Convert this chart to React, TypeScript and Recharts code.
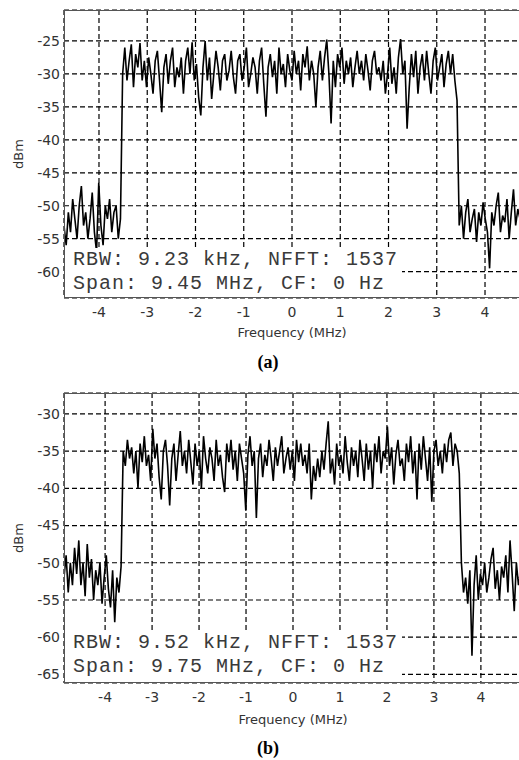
import React from "react"
import { LineChart, Line, XAxis, YAxis, CartesianGrid } from "recharts"

// spectrum (a): bins start at -4.725 MHz, 0.045 MHz apart
const A_START = -4.725
const A_STEP = 0.045
const aLowLeft = [
  -53, -56, -51, -54, -49, -52, -55, -50, -47, -53,
  -51, -55, -52, -48, -54, -57, -46.5, -53, -56, -50,
  -52, -49, -54, -51, -50, -55, -52,
]
const aBand = [
  -30, -26, -31, -28, -25.5, -32, -27, -29, -25.3, -31,
  -28, -32, -27.5, -30, -33, -28, -26.5, -31, -35.8, -29,
  -27, -31.5, -28, -26, -32, -29, -30.5, -27.5, -33, -28,
  -26, -30, -25.2, -31, -28.5, -33.5, -36.3, -29, -25, -31,
  -27.5, -33.8, -30, -26.5, -29, -32.5, -28, -27, -31, -29.5,
  -26.5, -30.5, -33, -28, -27, -31, -29, -26, -32, -30,
  -27.5, -29, -33, -28, -26, -31.5, -36.5, -29, -27, -30.5,
  -28, -33, -26, -30, -28.5, -32, -27, -29.5, -31, -26.5,
  -30, -28, -32.5, -27, -29, -25.8, -31, -28, -30, -35,
  -29, -26.5, -31, -27.5, -24.8, -30, -37.5, -28, -32, -27,
  -29, -26, -31.5, -28, -30, -27.5, -32, -29, -26.5, -30,
  -28, -31, -27, -29.5, -32.5, -28, -26.5, -30, -29, -31,
  -28, -33, -30, -26, -31.5, -29, -33, -27.5, -24.7, -30,
  -28, -38.3, -32, -27, -30.5, -26.5, -33, -29, -27, -31,
  -26.5, -30, -33, -28, -26, -31, -29, -27, -32, -28.5,
  -26.5, -30, -27, -31, -34,
]
const aLowRight = [
  -53, -50, -55, -51, -49, -54, -52, -50.5, -55.5, -51,
  -53, -49.5, -52, -54, -59.5, -51, -53, -50, -48, -54,
  -51.5, -52.5, -49, -55, -51, -47.5, -53, -50.5, -52,
]

// spectrum (b): bins start at -4.875 MHz
const B_START = -4.875
const B_STEP = 0.045
const bLowLeft = [
  -52, -49, -54, -50, -53, -48, -51.5, -47, -53, -50,
  -54.5, -47.5, -52, -49.5, -55, -51, -53, -50, -55.5, -52,
  -49, -53.5, -56, -51, -58, -52, -54, -50.5,
]
const bBand = [
  -35, -37, -33.5, -36, -34.5, -38, -35, -40, -34, -36.5,
  -33, -37, -35.5, -39, -32, -36, -34, -38.5, -41.5, -35,
  -33.5, -37, -42.3, -36, -34, -39, -35.5, -32.3, -37, -35,
  -38, -33.5, -36.5, -39.5, -34, -37, -35, -40, -33, -36,
  -38, -34.5, -36, -39, -33.5, -37, -35.5, -38.5, -40.5, -34,
  -36.5, -33.5, -37.5, -35, -39, -34, -36, -38, -43, -35.5,
  -33, -37, -35, -44, -36, -34, -38.5, -35.5, -37, -33.5,
  -36, -39, -34.5, -37, -35, -33, -38, -36, -34.5, -37.5,
  -35, -39, -33.5, -36.5, -34, -37, -35.5, -38, -34, -41.5,
  -37, -39, -36, -38.5, -35, -37.5, -34, -31, -38, -36,
  -39.5, -34, -37, -35.5, -38, -33, -36.5, -39, -34.5, -37,
  -35, -38.5, -33.5, -36, -39, -34, -37.5, -35, -40, -34,
  -36.5, -33, -38, -35, -36, -31.7, -37, -34.5, -39.5, -35.5,
  -33.5, -37, -36, -39, -34, -36.5, -33, -38, -35, -41.5,
  -34, -37.5, -33, -36, -39, -34.5, -41.8, -35, -33.5, -37,
  -35, -38, -34, -36.5, -33.5, -32.5, -37, -34, -35, -38,
]
const bLowRight = [
  -50, -54, -52, -55.5, -51, -62.5, -53, -49, -55, -51.5,
  -53, -50, -54, -52, -49.5, -48, -53.5, -51, -55, -50.5,
  -52, -49, -54, -47, -51.5, -56.5, -50, -53, -51,
]

const FREQ_TICKS = [-4, -3, -2, -1, 0, 1, 2, 3, 4]
const A_LEVEL_TICKS = [-60, -55, -50, -45, -40, -35, -30, -25]
const B_LEVEL_TICKS = [-65, -60, -55, -50, -45, -40, -35, -30]

const A_NOTE = ["RBW: 9.23 kHz, NFFT: 1537", "Span: 9.45 MHz, CF: 0 Hz"]
const B_NOTE = ["RBW: 9.52 kHz, NFFT: 1537", "Span: 9.75 MHz, CF: 0 Hz"]

const toRows = (start: number, step: number, levels: number[]) =>
  levels.map((v, i) => ({ f: +(start + i * step).toFixed(4), dbm: v }))

const dataA = toRows(A_START, A_STEP, [...aLowLeft, ...aBand, ...aLowRight])
const dataB = toRows(B_START, B_STEP, [...bLowLeft, ...bBand, ...bLowRight])

const tickStyle = { fill: "#333", fontSize: 14, fontFamily: "DejaVu Sans" }

interface PanelProps {
  top: number
  width: number
  height: number
  data: { f: number; dbm: number }[]
  xDomain: [number, number]
  yDomain: [number, number]
  yTicks: number[]
  note: string[]
  caption: string
  captionTop: number
  labelOffset: number
}

const Panel = ({ top, width, height, data, xDomain, yDomain, yTicks, note, caption, captionTop, labelOffset }: PanelProps) => {
  const plotH = height - 10 - 47
  return (
    <>
      <div style={{ position: "absolute", left: 0, top, width, height }}>
        <LineChart width={width} height={height} data={data} margin={{ top: 10, right: 0, bottom: 0, left: 0 }}>
          <CartesianGrid stroke="#000" strokeWidth={1.2} strokeDasharray="5 3" />
          <XAxis
            dataKey="f"
            type="number"
            domain={xDomain}
            ticks={FREQ_TICKS}
            allowDataOverflow
            axisLine={false}
            tickLine={false}
            tickSize={0}
            tickMargin={9}
            height={47}
            tick={tickStyle}
            label={{ value: "Frequency (MHz)", position: "insideBottom", offset: labelOffset, fill: "#333", fontSize: 13, fontFamily: "DejaVu Sans" }}
          />
          <YAxis
            type="number"
            domain={yDomain}
            ticks={yTicks}
            allowDataOverflow
            axisLine={false}
            tickLine={false}
            tickSize={0}
            tickMargin={4}
            width={64}
            tick={tickStyle}
            label={{ value: "dBm", angle: -90, position: "insideLeft", offset: 18, fill: "#333", fontSize: 13, fontFamily: "DejaVu Sans", style: { textAnchor: "middle" } }}
          />
          <Line type="linear" dataKey="dbm" stroke="#000" strokeWidth={1.6} dot={false} isAnimationActive={false} />
        </LineChart>
        {/* info box over the lower left of the plot */}
        <div style={{ position: "absolute", left: 64, top: 248, width: 338, height: plotH + 10 - 248, background: "#fff" }}>
          <div style={{ position: "absolute", left: 9, top: 0, fontFamily: "Liberation Mono", fontSize: 20, lineHeight: "24px", letterSpacing: 1, color: "#3a3a3a", whiteSpace: "pre" }}>
            {note.map((t) => <div key={t}>{t}</div>)}
          </div>
        </div>
        <div style={{ position: "absolute", left: 64, top: 10, width: width - 64, height: plotH, border: "1.5px solid #555", boxSizing: "border-box", pointerEvents: "none" }} />
      </div>
      <div style={{ position: "absolute", left: 228, top: captionTop, width: 80, textAlign: "center", fontFamily: "Liberation Serif", fontWeight: "bold", fontSize: 18, lineHeight: "20px", color: "#000" }}>
        {caption}
      </div>
    </>
  )
}

export default function App() {
  return (
    <div style={{ position: "fixed", left: 0, top: 0, width: 519, height: 760, overflow: "hidden", background: "#fff" }}>
      <Panel top={0} width={520} height={345} data={dataA} xDomain={[-4.725, 4.725]} yDomain={[-64, -20.3]} yTicks={A_LEVEL_TICKS} note={A_NOTE} caption="(a)" captionTop={352} labelOffset={8} />
      <Panel top={383} width={522} height={347} data={dataB} xDomain={[-4.875, 4.875]} yDomain={[-66.15, -27.2]} yTicks={B_LEVEL_TICKS} note={B_NOTE} caption="(b)" captionTop={738} labelOffset={6} />
    </div>
  )
}
